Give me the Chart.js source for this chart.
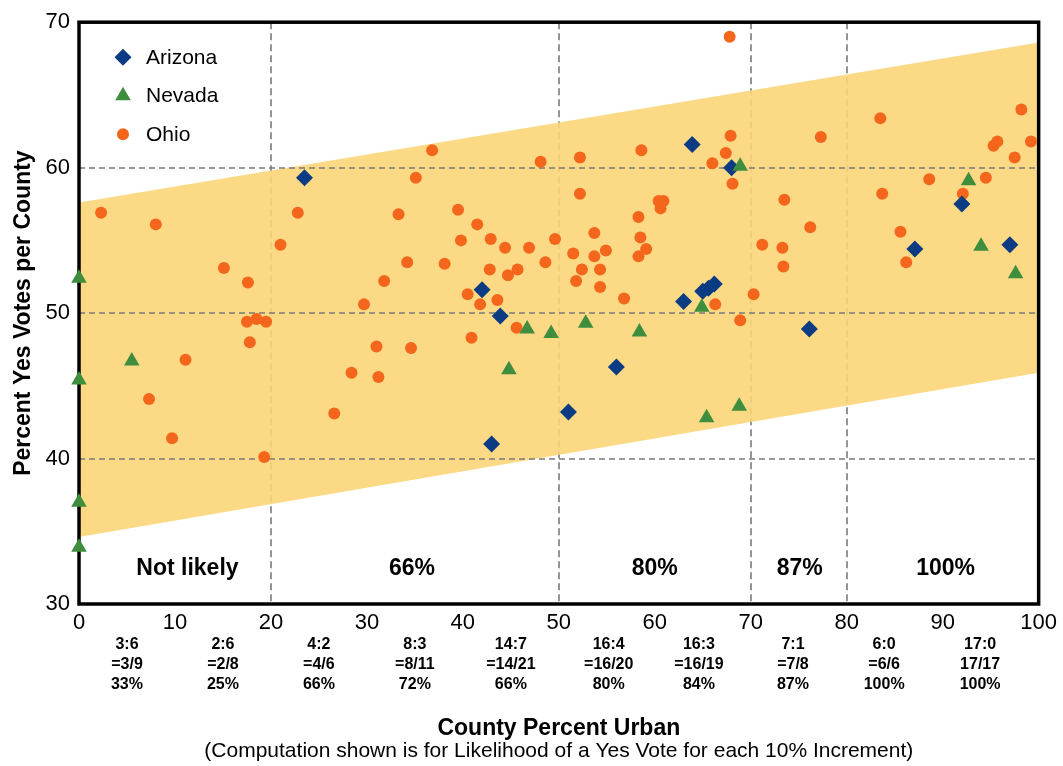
<!DOCTYPE html>
<html lang="en">
<head>
<meta charset="utf-8">
<title>Percent Yes Votes per County by County Percent Urban</title>
<script src="https://cdn.jsdelivr.net/npm/chart.js@4.4.1/dist/chart.umd.min.js"></script>
<style>
    html, body { margin: 0; padding: 0; background: #ffffff; }
    #chart { display: block; }
</style>
</head>
<body>
<canvas id="chart" width="1063" height="766"></canvas>
<script>
// --- Data: [percent urban, percent yes] per county ---
const arizona = [
    [23.5, 59.3], [42.0, 51.6], [43.9, 49.8], [43.0, 41.0], [51.0, 43.2], [56.0, 46.3],
    [63.0, 50.8], [63.9, 61.6], [65.0, 51.5], [65.6, 51.7], [66.2, 52.0], [68.0, 60.0],
    [76.1, 48.9], [87.1, 54.4], [92.0, 57.5], [97.0, 54.7]
];
const nevada = [
    [0, 52.4], [0, 45.4], [0, 37.0], [0, 33.9], [5.5, 46.7], [44.8, 46.1], [46.7, 48.9],
    [49.2, 48.6], [52.8, 49.3], [58.4, 48.7], [64.9, 50.4], [65.4, 42.8], [68.8, 43.6],
    [68.9, 60.1], [92.7, 59.1], [94.0, 54.6], [97.6, 52.7]
];
const ohio = [
    [2.3, 56.9], [8.0, 56.1], [15.1, 53.1], [17.6, 52.1], [17.5, 49.4], [18.5, 49.6],
    [19.5, 49.4], [17.8, 48.0], [11.1, 46.8], [7.3, 44.1], [9.7, 41.4], [19.3, 40.1],
    [21.0, 54.7], [22.8, 56.9], [28.4, 45.9], [26.6, 43.1], [29.7, 50.6], [31.8, 52.2],
    [31.0, 47.7], [31.2, 45.6], [33.3, 56.8], [34.2, 53.5], [34.6, 47.6], [35.1, 59.3],
    [36.8, 61.2], [38.1, 53.4], [39.5, 57.1], [39.8, 55.0], [40.5, 51.3], [40.9, 48.3],
    [41.5, 56.1], [41.8, 50.6], [42.8, 53.0], [42.9, 55.1], [43.6, 50.9], [44.4, 54.5],
    [44.7, 52.6], [45.6, 49.0], [45.7, 53.0], [46.9, 54.5], [48.1, 60.4], [48.6, 53.5],
    [49.6, 55.1], [51.5, 54.1], [51.8, 52.2], [52.2, 60.7], [52.2, 58.2], [52.4, 53.0],
    [53.7, 55.5], [53.7, 53.9], [54.3, 53.0], [54.3, 51.8], [54.9, 54.3], [56.8, 51.0],
    [58.3, 56.6], [58.3, 53.9], [58.5, 55.2], [58.6, 61.2], [59.1, 54.4], [60.4, 57.7],
    [60.9, 57.7], [60.6, 57.2], [66.0, 60.3], [66.3, 50.6], [67.4, 61.0], [67.8, 69.0],
    [67.9, 62.2], [68.1, 58.9], [68.9, 49.5], [70.3, 51.3], [71.2, 54.7], [73.3, 54.5],
    [73.4, 53.2], [73.5, 57.8], [76.2, 55.9], [77.3, 62.1], [83.5, 63.4], [83.7, 58.2],
    [85.6, 55.6], [86.2, 53.5], [88.6, 59.2], [92.1, 58.2], [94.5, 59.3], [95.3, 61.5],
    [95.7, 61.8], [97.5, 60.7], [98.2, 64.0], [99.2, 61.8]
];

// Shaded band: its upper and lower edge at x = 0 and x = 100
const bandX = [0, 100];
const bandUpper = [57.6, 68.6];
const bandLower = [34.6, 45.9];

// Axis ticks
const xTicks = [0, 10, 20, 30, 40, 50, 60, 70, 80, 90, 100];
const yTicks = [30, 40, 50, 60, 70];

// Dashed reference lines
const dividerX = [20, 50, 70, 80];
const guideY = [40, 50, 60];

// Likelihood captions inside the plot
const regionText = ["Not likely", "66%", "80%", "87%", "100%"];
const regionAt = [11.3, 34.7, 60.0, 75.1, 90.3];
const regionLevel = 32.4;

// Computation under each 10% bucket
const ratioAt = [5, 15, 25, 35, 45, 55.2, 64.6, 74.4, 83.9, 93.9];
const ratioCounts = ["3:6", "2:6", "4:2", "8:3", "14:7", "16:4", "16:3", "7:1", "6:0", "17:0"];
const ratioFractions = ["=3/9", "=2/8", "=4/6", "=8/11", "=14/21", "=16/20", "=16/19", "=7/8", "=6/6", "17/17"];
const ratioPercents = ["33%", "25%", "66%", "72%", "66%", "80%", "84%", "87%", "100%", "100%"];

document.addEventListener("DOMContentLoaded", function () {
    const FONT = "'Liberation Sans', Arial, Helvetica, sans-serif";
    const toPoints = (list) => list.map(([x, y]) => ({ x: x, y: y }));
    const BAND_INDEX = 4; // lower band edge carries the fill

    // Dashed lines, frame, legend and all the extra captions
    const overlay = {
        id: "overlay",
        beforeDatasetsDraw(chart) {
            const { ctx, chartArea: a, scales: { x } } = chart;
            ctx.save();
            ctx.strokeStyle = "#7a7a7a";
            ctx.lineWidth = 1.6;
            ctx.setLineDash([7, 4]);
            dividerX.forEach((v) => {
                const px = Math.round(x.getPixelForValue(v));
                ctx.beginPath();
                ctx.moveTo(px, a.top);
                ctx.lineTo(px, a.bottom);
                ctx.stroke();
            });
            ctx.restore();
        },
        afterDatasetDraw(chart, args) {
            if (args.index !== BAND_INDEX) return;
            const { ctx, chartArea: a, scales: { y } } = chart;
            ctx.save();
            ctx.strokeStyle = "#7a7a7a";
            ctx.lineWidth = 1.4;
            ctx.setLineDash([6, 4]);
            guideY.forEach((v) => {
                const py = Math.round(y.getPixelForValue(v));
                ctx.beginPath();
                ctx.moveTo(a.left, py);
                ctx.lineTo(a.right, py);
                ctx.stroke();
            });
            // black frame round the plot
            ctx.setLineDash([]);
            ctx.strokeStyle = "#000000";
            ctx.lineWidth = 3.5;
            ctx.strokeRect(a.left, a.top, a.right - a.left, a.bottom - a.top);
            ctx.restore();
        },
        afterDraw(chart) {
            const { ctx, chartArea: a, scales: { x, y } } = chart;
            ctx.save();
            ctx.fillStyle = "#000000";
            ctx.textAlign = "center";
            ctx.textBaseline = "middle";

            // legend inside the top-left corner
            chart.data.datasets.slice(0, 3).forEach((ds, i) => {
                const lx = a.left + 44;
                const ly = a.top + 35 + i * 38.5;
                ctx.fillStyle = ds.backgroundColor;
                Chart.helpers.drawPoint(ctx, {
                    pointStyle: ds.pointStyle,
                    radius: ds.pointRadius,
                    rotation: 0,
                    borderWidth: 0
                }, lx, ly);
                ctx.fillStyle = "#000000";
                ctx.textAlign = "left";
                ctx.font = "21px " + FONT;
                ctx.fillText(ds.label, a.left + 67, ly + 1);
            });

            // likelihood captions
            ctx.textAlign = "center";
            ctx.font = "bold 23px " + FONT;
            regionText.forEach((t, i) => {
                ctx.fillText(t, x.getPixelForValue(regionAt[i]), y.getPixelForValue(regionLevel));
            });

            // computation rows below the axis
            ctx.font = "bold 16px " + FONT;
            ratioAt.forEach((v, i) => {
                const px = x.getPixelForValue(v);
                ctx.fillText(ratioCounts[i], px, a.bottom + 41);
                ctx.fillText(ratioFractions[i], px, a.bottom + 61);
                ctx.fillText(ratioPercents[i], px, a.bottom + 81);
            });

            // x axis title and note
            const cx = (a.left + a.right) / 2;
            ctx.font = "bold 23px " + FONT;
            ctx.fillText("County Percent Urban", cx, a.bottom + 125);
            ctx.font = "21px " + FONT;
            ctx.fillText("(Computation shown is for Likelihood of a Yes Vote for each 10% Increment)", cx, a.bottom + 147);
            ctx.restore();
        }
    };

    const ctx = document.getElementById("chart").getContext("2d");
    new Chart(ctx, {
        type: "scatter",
        data: {
            datasets: [
                {
                    label: "Arizona",
                    data: toPoints(arizona),
                    pointStyle: "rectRot",
                    pointRadius: 8.5,
                    backgroundColor: "#0b3b82",
                    borderWidth: 0,
                    clip: false,
                    order: 1
                },
                {
                    label: "Nevada",
                    data: toPoints(nevada),
                    pointStyle: "triangle",
                    pointRadius: 9,
                    backgroundColor: "#3e8e3e",
                    borderWidth: 0,
                    clip: false,
                    order: 0
                },
                {
                    label: "Ohio",
                    data: toPoints(ohio),
                    pointStyle: "circle",
                    pointRadius: 6,
                    backgroundColor: "#f4661b",
                    borderWidth: 0,
                    clip: false,
                    order: 2
                },
                {
                    label: "band upper",
                    type: "line",
                    data: bandX.map((v, i) => ({ x: v, y: bandUpper[i] })),
                    pointRadius: 0,
                    borderWidth: 0,
                    fill: false,
                    order: 3
                },
                {
                    label: "band lower",
                    type: "line",
                    data: bandX.map((v, i) => ({ x: v, y: bandLower[i] })),
                    pointRadius: 0,
                    borderWidth: 0,
                    fill: "-1",
                    backgroundColor: "rgba(252, 214, 120, 0.9)",
                    order: 3
                }
            ]
        },
        options: {
            responsive: false,
            animation: false,
            devicePixelRatio: 1,
            layout: { padding: { left: 0, top: 20, right: 23, bottom: 0 } },
            plugins: {
                legend: { display: false },
                tooltip: { enabled: false }
            },
            scales: {
                x: {
                    type: "linear",
                    min: 0,
                    max: 100,
                    afterBuildTicks: (s) => { s.ticks = xTicks.map((v) => ({ value: v })); },
                    ticks: {
                        color: "#000000",
                        font: { size: 22, family: FONT },
                        padding: 6,
                        maxRotation: 0,
                        autoSkip: false
                    },
                    grid: { display: false, drawTicks: false },
                    border: { display: false },
                    afterFit: (s) => { s.height = 162; }
                },
                y: {
                    type: "linear",
                    min: 30,
                    max: 70,
                    afterBuildTicks: (s) => { s.ticks = yTicks.map((v) => ({ value: v })); },
                    ticks: {
                        color: "#000000",
                        font: { size: 22, family: FONT },
                        padding: 9
                    },
                    grid: { display: false, drawTicks: false },
                    border: { display: false },
                    title: {
                        display: true,
                        text: "Percent Yes Votes per County",
                        color: "#000000",
                        font: { size: 23, weight: "bold", family: FONT },
                        padding: { top: 10, bottom: 0 }
                    },
                    afterFit: (s) => { s.width = 79; }
                }
            }
        },
        plugins: [overlay]
    });
});
</script>
</body>
</html>
